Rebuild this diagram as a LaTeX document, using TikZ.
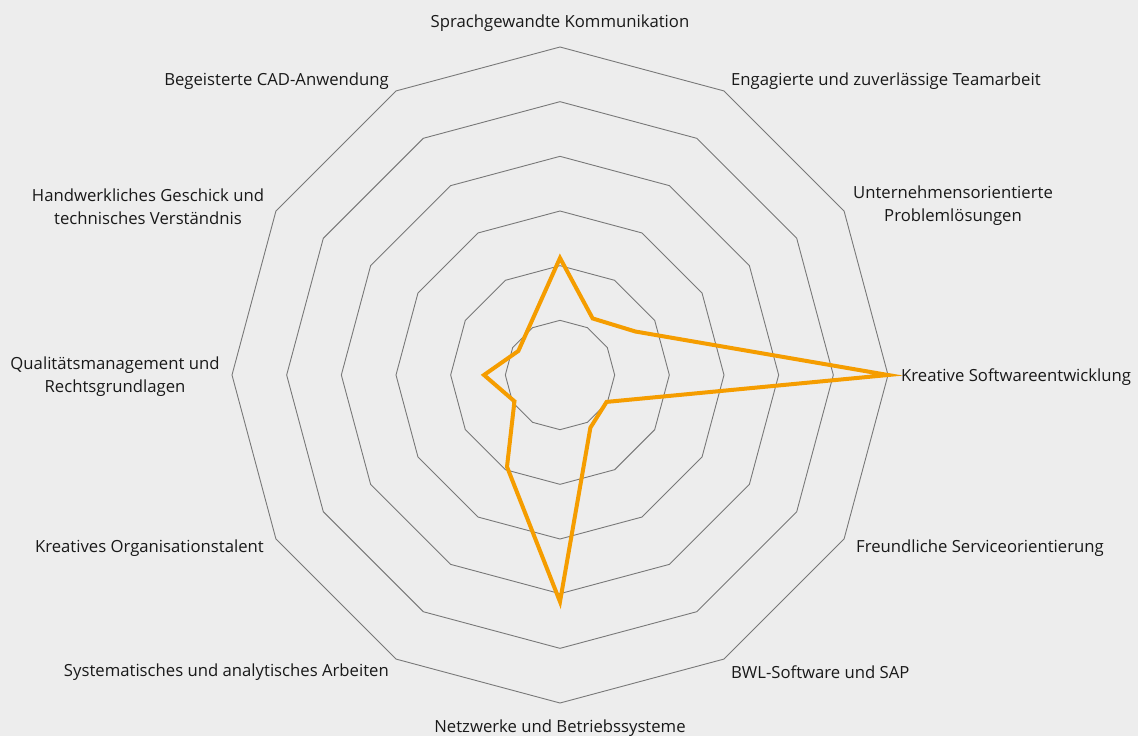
\documentclass[tikz,border=0pt]{standalone}
\usepackage{fontspec}
\setmainfont{Open Sans}
\definecolor{bgc}{RGB}{237,237,237}
\definecolor{ringc}{RGB}{120,120,120}
\definecolor{datac}{RGB}{245,157,0}
\definecolor{txtc}{RGB}{25,25,25}
\begin{document}
\begin{tikzpicture}[x=1pt,y=-1pt,
  ring/.style={draw=ringc,line width=0.9pt,line join=miter},
  dataline/.style={draw=datac,line width=4pt,line join=miter,miter limit=20},
  lbl/.style={inner sep=0pt,text=txtc,font=\fontsize{16.7}{23}\selectfont},
  lblc/.style={lbl,align=center}]
\useasboundingbox[fill=bgc] (0,0) rectangle (1138,736);
\def\cx{560}\def\cy{375}\def\st{54.667}
% rings
\foreach \i in {1,...,6}{
  \draw[ring] (\cx,{\cy-\i*\st}) \foreach \k in {1,...,11}{ -- ({\cx+\i*\st*sin(30*\k)},{\cy-\i*\st*cos(30*\k)}) } -- cycle;
}
% data points
\foreach \k/\r in {0/117,1/65.3,2/87,3/328,4/53.8,5/60.8,6/226.7,7/106,8/52.6,9/76,10/48.1,11/59}{
  \coordinate (d\k) at ({\cx+\r*sin(30*\k)},{\cy-\r*cos(30*\k)});
}
\draw[dataline] (d0) -- (d1) -- (d2) -- (d3) -- (d4) -- (d5) -- (d6) -- (d7) -- (d8) -- (d9) -- (d10) -- (d11) -- cycle;
% labels
\node[lbl] (l0) at (560,23.5) {Sprachgewandte Kommunikation};
\node[lbl,anchor=west] (l1) at (731,81.5) {Engagierte und zuverlässige Teamarbeit};
\node[lblc] (l2) at (953,206) {Unternehmensorientierte\\Problemlösungen};
\node[lbl,anchor=west] (l3) at (901,377.5) {Kreative Softwareentwicklung};
\node[lbl,anchor=west] (l4) at (856,548.5) {Freundliche Serviceorientierung};
\node[lbl,anchor=west] (l5) at (731,672.5) {BWL-Software und SAP};
\node[lbl] (l6) at (560,728) {Netzwerke und Betriebssysteme};
\node[lbl,anchor=east] (l7) at (389,672.5) {Systematisches und analytisches Arbeiten};
\node[lbl,anchor=east] (l8) at (264,548.5) {Kreatives Organisationstalent};
\node[lblc] (l9) at (115,377) {Qualitätsmanagement und\\Rechtsgrundlagen};
\node[lblc] (l10) at (148,207) {Handwerkliches Geschick und\\technisches Verständnis};
\node[lbl,anchor=east] (l11) at (389,81.5) {Begeisterte CAD-Anwendung};
\end{tikzpicture}
\end{document}
